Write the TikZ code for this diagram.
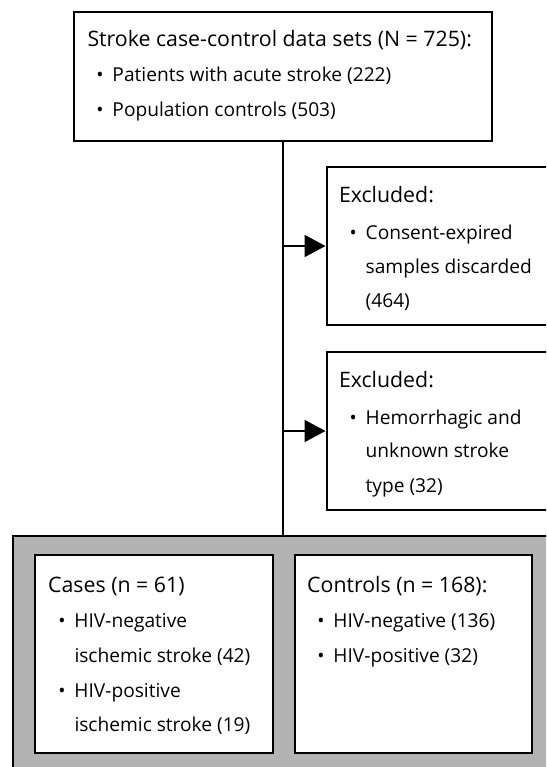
\documentclass[tikz,border=0pt]{standalone}
\usepackage{fontspec}
\setmainfont{Open Sans}
\usetikzlibrary{arrows.meta}

\definecolor{panelgray}{RGB}{179,179,179}
\newcommand{\bul}{\llap{\textbullet\hspace{9pt}}}

\tikzset{
  box/.style={draw, line width=2pt, fill=white, anchor=north west, inner sep=0pt},
  txt/.style={anchor=base west, inner sep=0pt, font=\fontsize{19.15}{23}\selectfont},
  head/.style={txt, font=\fontsize{21.3}{25}\selectfont},
  link/.style={line width=2pt},
  tip/.style={-{Triangle[length=21pt,width=22pt]}}
}

\begin{document}
\begin{tikzpicture}[x=1pt,y=-1pt]
      \useasboundingbox (0,0) rectangle (546,767);
      \clip (0,0) rectangle (546,767);

      % boxes
      \node[box, minimum width=418.5pt, minimum height=129pt] (data) at (72.5,11) {};
      \node[box, minimum width=275pt, minimum height=158pt] (excl1) at (325.5,166) {};
      \node[box, minimum width=275pt, minimum height=158pt] (excl2) at (325.5,351) {};
      \node[box, fill=panelgray, minimum width=548pt, minimum height=260pt] (study) at (12,535) {};
      \node[box, minimum width=238pt, minimum height=198pt] (cases) at (34,554) {};
      \node[box, minimum width=237.5pt, minimum height=198pt] (controls) at (293.5,554) {};

      % flow
      \draw[link] (data.south) -- (data.south |- study.north);
      \draw[link, tip] (data.south |- excl1.west) -- (excl1.west);
      \draw[link, tip] (data.south |- excl2.west) -- (excl2.west);

      % data sets
      \node[head] (data-h) at (87.3, 46.7) {Stroke case-control data sets (N = 725):};
      \node[txt] (data-1) at (112.3, 82) {\bul Patients with acute stroke (222)};
      \node[txt] (data-2) at (112.3, 117) {\bul Population controls (503)};

      % first exclusion
      \node[head] (excl1-h) at (338.8, 203) {Excluded:};
      \node[txt] (excl1-1) at (365.5, 239) {\bul Consent-expired};
      \node[txt] (excl1-2) at (365.5, 273) {samples discarded};
      \node[txt] (excl1-3) at (365.5, 307) {(464)};

      % second exclusion
      \node[head] (excl2-h) at (338.8, 387) {Excluded:};
      \node[txt] (excl2-1) at (365.5, 424) {\bul Hemorrhagic and};
      \node[txt] (excl2-2) at (365.5, 457) {unknown stroke};
      \node[txt] (excl2-3) at (365.5, 492) {type (32)};

      % cases
      \node[head] (cases-h) at (48, 592) {Cases (n = 61)};
      \node[txt] (cases-1) at (74.3, 627) {\bul HIV-negative};
      \node[txt] (cases-2) at (74.3, 662) {ischemic stroke (42)};
      \node[txt] (cases-3) at (74.3, 697) {\bul HIV-positive};
      \node[txt] (cases-4) at (74.3, 731) {ischemic stroke (19)};

      % controls
      \node[head] (controls-h) at (307, 592) {Controls (n = 168):};
      \node[txt] (controls-1) at (333.3, 627) {\bul HIV-negative (136)};
      \node[txt] (controls-2) at (333.3, 662) {\bul HIV-positive (32)};
\end{tikzpicture}
\end{document}
